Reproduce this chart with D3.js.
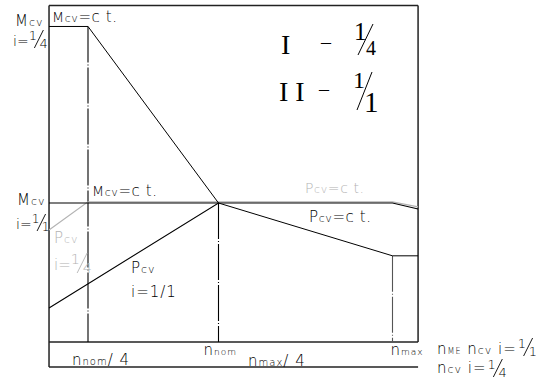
<!DOCTYPE html>
<html><head><meta charset="utf-8">
<script src="https://cdn.jsdelivr.net/npm/d3@7"></script>
<style>body{margin:0;background:#fff}svg{display:block}</style>
</head><body><svg id="chart" width="549" height="382"></svg>
<script>
// Speed n in units of n_nom; torque/power in units of the rated value at i = 1/1
const speedRange = [0.026, 2.147];          // left and right edge of the diagram
const levelRange = [-0.18, 2.42];           // bottom strip and top edge
const speedMarks = [0.25, 1, 2];            // n_nom/4, n_nom, n_max
const markTops   = [2.27, 1, 0.62];         // where each dash-dot guide starts
const mcvQuarter = [[0.026, 2.27], [0.25, 2.27], [1, 1], [2, 0.62], [2.147, 0.62]];
const mcvUnity   = [[0.026, 1], [1, 1]];
const pcvUnity   = [[0.026, 0.245], [1, 1], [2, 1], [2.147, 0.957]];
const pcvQuarter = [[0.026, 0.806], [0.25, 1.008], [2, 1.008], [2.147, 0.972]];

const svg = d3.select("#chart");
const x = d3.scaleLinear().domain([0.25, 2]).range([88, 392.5]);
const y = d3.scaleLinear().domain([0, 1]).range([342, 203]);
const line = d3.line().x(d => x(d[0])).y(d => y(d[1]));

const GRAY = "#b3b3b3";
const CAD = "'DejaVu Sans', sans-serif";
const SERIF = "'Liberation Serif', serif";

// frame: left edge, top edge, right edge and bottom strip
const frame = svg.append("g").attr("stroke", "#222").attr("stroke-width", 1.5).attr("fill", "none");
frame.append("line").attr("x1", x(speedRange[0])).attr("x2", x(speedRange[0]))
  .attr("y1", y(levelRange[1])).attr("y2", y(levelRange[0]));
frame.append("line").attr("x1", x(speedRange[0])).attr("x2", x(speedRange[1]))
  .attr("y1", y(levelRange[1])).attr("y2", y(levelRange[1]));
frame.append("line").attr("x1", x(speedRange[1])).attr("x2", x(speedRange[1]))
  .attr("y1", y(levelRange[1])).attr("y2", y(0));
frame.append("line").attr("x1", x(speedRange[0])).attr("x2", x(speedRange[1]))
  .attr("y1", y(levelRange[0])).attr("y2", y(levelRange[0]));

// speed axis
const axis = svg.append("g").attr("transform", `translate(0,${y(0)})`)
  .call(d3.axisBottom(x).tickValues([]).tickSizeOuter(0));
axis.select(".domain").attr("d", `M${x(speedRange[0])},0H${x(speedRange[1])}`)
  .attr("stroke", "#222").attr("stroke-width", 1.5);

// dash-dot guides at the characteristic speeds
svg.append("g").selectAll("line").data(speedMarks).join("line")
  .attr("x1", d => x(d)).attr("x2", d => x(d))
  .attr("y1", (d, i) => y(markTops[i])).attr("y2", y(0))
  .attr("stroke", (d, i) => i === 2 ? "#555" : "#000").attr("stroke-width", 1.1)
  .attr("stroke-dasharray", "36,2,1,2");

// curves
const curves = [
  { data: pcvQuarter, color: GRAY, w: 1.2 },
  { data: mcvQuarter, color: "#000", w: 1 },
  { data: mcvUnity, color: "#000", w: 1.1 },
  { data: pcvUnity, color: "#000", w: 1.1 }
];
svg.append("g").selectAll("path").data(curves).join("path")
  .attr("d", d => line(d.data)).attr("fill", "none")
  .attr("stroke", d => d.color).attr("stroke-width", d => d.w);

// text helpers
function label(px, py, parts, opt = {}) {
  const t = svg.append("text").attr("x", px).attr("y", py)
    .attr("fill", opt.color || "#000").attr("font-family", opt.family || CAD)
    .attr("font-weight", opt.weight || 200)
    .attr("letter-spacing", opt.ls === undefined ? 1 : opt.ls);
  parts.forEach(p => {
    const s = t.append("tspan").text(p.t).attr("font-size", p.s);
    if (p.dx) s.attr("dx", p.dx);
  });
  return t;
}
function rightOf(t, gap) {
  const b = t.node().getBBox();
  return b.x + b.width + gap;
}
// stacked fraction: numerator upper left, long slash, denominator lower right
function frac(px, top, H, num, den, opt = {}) {
  const o = Object.assign({ ls: 0 }, opt);
  const fs = H * 0.72;
  label(px, top + 0.54 * H, [{ t: num, s: fs }], o);
  label(px + 0.6 * H, top + H, [{ t: den, s: fs }], o);
  svg.append("line")
    .attr("x1", px + 0.32 * H).attr("y1", top + H)
    .attr("x2", px + 0.82 * H).attr("y2", top)
    .attr("stroke", o.color || "#000").attr("stroke-width", 0.9);
}

// torque labels
label(15, 26, [{ t: "M", s: 15 }, { t: "cv", s: 11 }]);
let t = label(13, 46, [{ t: "i=", s: 14 }], { ls: 0 });
frac(rightOf(t, 0), 30, 18, "1", "4");
label(52, 22, [{ t: "M", s: 14 }, { t: "cv", s: 11 }, { t: "=c t.", s: 15 }], { ls: 0.6 });

label(17, 205, [{ t: "M", s: 15 }, { t: "cv", s: 11 }]);
t = label(16, 229, [{ t: "i=", s: 14 }], { ls: 0 });
frac(rightOf(t, 0), 214, 17, "1", "1");
label(92, 196, [{ t: "M", s: 14 }, { t: "cv", s: 11 }, { t: "=c t.", s: 15 }], { ls: 0.6 });

// power labels
label(54, 243, [{ t: "P", s: 15 }, { t: "cv", s: 11 }], { color: GRAY });
t = label(54, 270, [{ t: "i=", s: 15 }], { color: GRAY, ls: 0 });
frac(rightOf(t, 0), 253, 20, "1", "4", { color: GRAY });
label(131, 273, [{ t: "P", s: 15 }, { t: "cv", s: 11 }]);
label(131, 297, [{ t: "i=1/1", s: 15 }]);
label(305, 193, [{ t: "P", s: 14 }, { t: "cv", s: 11 }, { t: "=c t.", s: 14 }], { color: GRAY, ls: 0.6 });
label(309, 222, [{ t: "P", s: 15 }, { t: "cv", s: 11 }, { t: "=c t.", s: 15 }], { ls: 0.6 });

// gear ratio legend
const legend = { family: SERIF, weight: 400, ls: 0 };
label(281, 54, [{ t: "I", s: 28 }], legend);
label(321, 49, [{ t: "–", s: 20 }], legend);
label(354, 40, [{ t: "1", s: 25 }], legend);
label(366, 55, [{ t: "4", s: 20 }], legend);
svg.append("line").attr("x1", 358).attr("y1", 55).attr("x2", 373).attr("y2", 24)
  .attr("stroke", "#000").attr("stroke-width", 1);
label(279, 101, [{ t: "I I", s: 28 }], legend);
label(319, 96, [{ t: "–", s: 20 }], legend);
label(353, 88, [{ t: "1", s: 24 }], legend);
label(364, 112, [{ t: "1", s: 29 }], legend);
svg.append("line").attr("x1", 357).attr("y1", 110).attr("x2", 372).attr("y2", 72)
  .attr("stroke", "#000").attr("stroke-width", 1);

// speed labels
label(x(0.25) - 16, 365, [{ t: "n", s: 15 }, { t: "nom", s: 10 }, { t: "/ 4", s: 15 }]);
label(x(1) - 15, 355, [{ t: "n", s: 15 }, { t: "nom", s: 9 }]);
label(248, 366, [{ t: "n", s: 15 }, { t: "max", s: 10 }, { t: "/ 4", s: 15 }]);
label(x(2) - 2, 355, [{ t: "n", s: 15 }, { t: "max", s: 9 }]);
t = label(437, 354, [{ t: "n", s: 15 }, { t: "ME", s: 8 }, { t: "  n", s: 15 }, { t: "cv", s: 11 }, { t: " i=", s: 15 }]);
frac(rightOf(t, 1), 338, 18, "1", "1");
t = label(437, 373, [{ t: "n", s: 15 }, { t: "cv", s: 11 }, { t: " i=", s: 15 }]);
frac(rightOf(t, 1), 359, 18, "1", "4");
</script></body></html>
